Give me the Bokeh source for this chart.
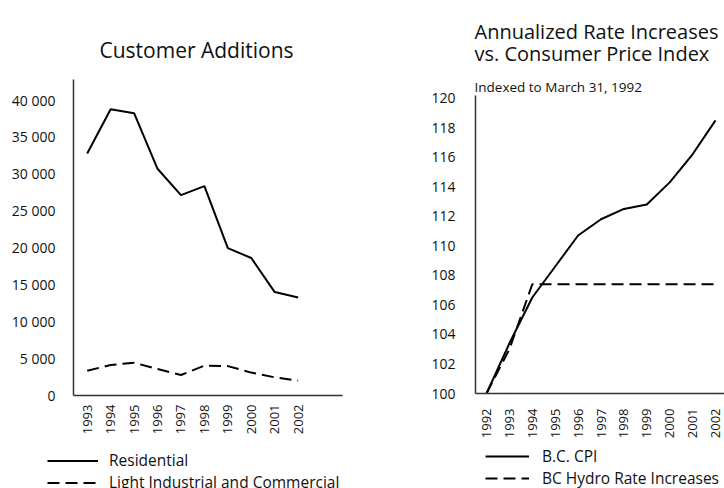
import numpy as np
from bokeh.plotting import figure
from bokeh.layouts import row
from bokeh.models import Range1d, Legend, LegendItem, FixedTicker, Label
from bokeh.embed import file_html
from bokeh.resources import INLINE

# ---------------- data ----------------
cust_years = [1993, 1994, 1995, 1996, 1997, 1998, 1999, 2000, 2001, 2002]
residential = [32750, 38760, 38220, 30690, 27130, 28340, 19960, 18610, 14000, 13270]
light_industrial = [3360, 4120, 4440, 3580, 2770, 4040, 3980, 3100, 2460, 2020]
cust_ticks = [0, 5000, 10000, 15000, 20000, 25000, 30000, 35000, 40000]
cust_tick_labels = ["0", "5 000", "10 000", "15 000", "20 000", "25 000", "30 000", "35 000", "40 000"]

rate_years = [1992, 1993, 1994, 1995, 1996, 1997, 1998, 1999, 2000, 2001, 2002]
bc_cpi = [100.0, 103.4, 106.5, 108.6, 110.7, 111.8, 112.5, 112.8, 114.3, 116.2, 118.5]
bc_hydro = [100.0, 103.0, 107.4, 107.4, 107.4, 107.4, 107.4, 107.4, 107.4, 107.4, 107.4]
rate_ticks = [100, 102, 104, 106, 108, 110, 112, 114, 116, 118, 120]

FONT = "Open Sans"
TXT = "#111111"
AXIS_COLOR = "#333333"
DASH = "12 6"
H = 488

# ---------------- left figure (canvas page x 0..400) ----------------
W1 = 400
X1S, X1E = 1993 - 86.7 / 23.44, 1993 + (W1 - 86.7) / 23.44
Y1S, Y1E = -(H - 395) / 7.3875 * 1000, 395 / 7.3875 * 1000

def X1(px):
    return X1S + px / W1 * (X1E - X1S)

def Y1(py):
    return Y1S + (H - py) / H * (Y1E - Y1S)

p1 = figure(width=W1, height=H, output_backend="svg", toolbar_location=None,
            x_range=Range1d(X1S, X1E), y_range=Range1d(Y1S, Y1E), min_border=0)
r_res = p1.line(cust_years, residential, line_color="black", line_width=2)
r_lic = p1.line(cust_years, light_industrial, line_color="black", line_width=2, line_dash=DASH)
p1.xaxis.fixed_location = 0
p1.xaxis.bounds = (X1(73), X1(342))
p1.yaxis.fixed_location = X1(73)
p1.yaxis.bounds = (0, Y1(79.3))

# ---------------- right figure (canvas page x 400..724) ----------------
W2 = 324
X2S, X2E = 1992 - 86 / 22.9, 1992 + (W2 - 86) / 22.9
PPU = (393 - 97.7) / 20
Y2S, Y2E = 100 - (H - 393) / PPU, 120 + 97.7 / PPU

def X2(px):
    return X2S + (px - 400) / W2 * (X2E - X2S)

def Y2(py):
    return Y2S + (H - py) / H * (Y2E - Y2S)

p2 = figure(width=W2, height=H, output_backend="svg", toolbar_location=None,
            x_range=Range1d(X2S, X2E), y_range=Range1d(Y2S, Y2E), min_border=0)
r_cpi = p2.line(rate_years, bc_cpi, line_color="black", line_width=2)
r_hyd = p2.line(rate_years, bc_hydro, line_color="black", line_width=2, line_dash=DASH)
p2.xaxis.fixed_location = 100
p2.xaxis.bounds = (X2(475), X2E)
p2.yaxis.fixed_location = X2(475)
p2.yaxis.bounds = (100, Y2(95))

# ---------------- common styling ----------------
for p, xt, yt, ytick_lab, ystand, xstand in (
        (p1, cust_years, cust_ticks, dict(zip(cust_ticks, cust_tick_labels)), 18, 9),
        (p2, rate_years, rate_ticks, {t: str(t) for t in rate_ticks}, 20, 15)):
    p.outline_line_color = None
    p.xgrid.visible = False
    p.ygrid.visible = False
    p.background_fill_color = "white"
    p.border_fill_color = "white"
    p.xaxis.ticker = FixedTicker(ticks=xt)
    p.xaxis.major_label_overrides = {y: str(y) for y in xt}
    p.xaxis.major_label_orientation = np.pi / 2
    p.xaxis.major_label_standoff = xstand
    p.yaxis.ticker = FixedTicker(ticks=yt)
    p.yaxis.major_label_overrides = ytick_lab
    p.yaxis.major_label_standoff = ystand
    for ax in (p.xaxis, p.yaxis):
        ax.major_tick_line_color = None
        ax.minor_tick_line_color = None
        ax.major_tick_out = 0
        ax.major_tick_in = 0
        ax.minor_tick_out = 0
        ax.minor_tick_in = 0
        ax.axis_line_color = AXIS_COLOR
        ax.axis_line_width = 1.5
        ax.major_label_text_font = FONT
        ax.major_label_text_color = TXT
    p.xaxis.major_label_text_font_size = "13px"
    p.yaxis.major_label_text_font_size = "14px"

# ---------------- titles ----------------
def add_text(p, x, y, text, size, align="left"):
    p.add_layout(Label(x=x, y=y, text=text, text_font=FONT, text_font_size=size,
                       text_align=align, text_baseline="alphabetic", text_color=TXT))

add_text(p1, X1(196), Y1(49), "Customer Additions", "21px", "center")
add_text(p2, X2(474), Y2(31), "Annualized Rate Increases", "20px")
add_text(p2, X2(474), Y2(53), "vs. Consumer Price Index", "20px")
add_text(p2, X2(474), Y2(86), "Indexed to March 31, 1992", "13.5px")

# ---------------- legends ----------------
leg1 = Legend(items=[LegendItem(label="Residential", renderers=[r_res]),
                     LegendItem(label="Light Industrial and Commercial", renderers=[r_lic])],
              location=(47, H - 452 - 41), orientation="vertical",
              glyph_width=51, glyph_height=19, label_height=19, spacing=-3,
              padding=0, margin=0, label_standoff=11,
              border_line_color=None, background_fill_alpha=0,
              label_text_font=FONT, label_text_font_size="15.5px", label_text_color=TXT)
p1.add_layout(leg1, "center")

leg2 = Legend(items=[LegendItem(label="B.C. CPI", renderers=[r_cpi]),
                     LegendItem(label="BC Hydro Rate Increases", renderers=[r_hyd])],
              location=(485 - 400, H - 445 - 44), orientation="vertical",
              glyph_width=44, glyph_height=22, label_height=22, spacing=0,
              padding=0, margin=0, label_standoff=13,
              border_line_color=None, background_fill_alpha=0,
              label_text_font=FONT, label_text_font_size="15.5px", label_text_color=TXT)
p2.add_layout(leg2, "center")

layout = row(p1, p2)
open("out.html", "w").write(file_html(layout, INLINE))
